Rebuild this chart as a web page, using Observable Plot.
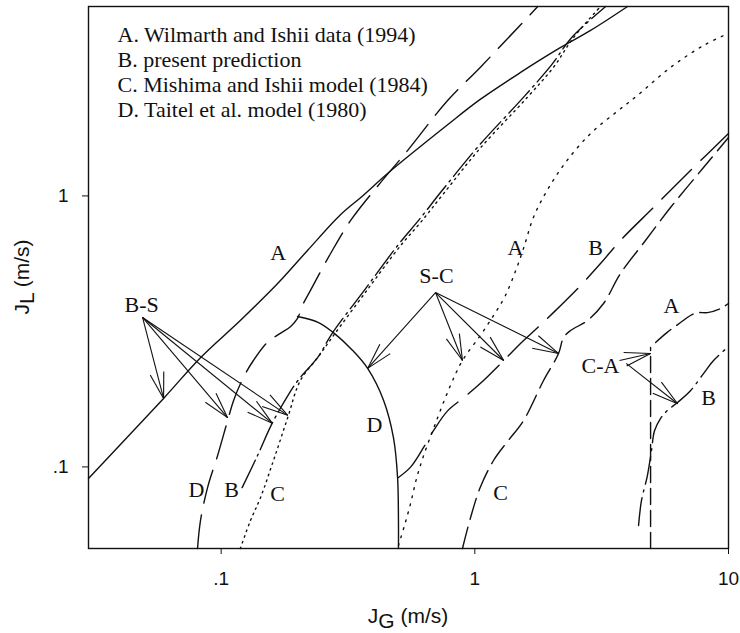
<!DOCTYPE html>
<html>
<head>
<meta charset="utf-8">
<script src="https://cdn.jsdelivr.net/npm/d3@7"></script>
<script src="https://cdn.jsdelivr.net/npm/@observablehq/plot@0.6"></script>
<style>
  html, body { margin: 0; padding: 0; background: #fff; }
  #chart svg { display: block; }
</style>
</head>
<body>
<div id="chart"></div>
<script>
// Flow-regime transition boundaries, superficial gas velocity jG vs liquid velocity jL (m/s)

// Bubbly–slug (B-S) transition
const bsDataG = [0.030, 0.0593, 0.0829, 0.119, 0.167, 0.219, 0.296, 0.361, 0.453, 0.781, 1.05, 1.51, 2.18, 2.86, 4.0];
const bsDataL = [0.0906, 0.179, 0.253, 0.347, 0.475, 0.629, 0.854, 1.00, 1.21, 1.83, 2.27, 2.85, 3.53, 4.08, 5.0];
const bsTaitelG = [0.0807, 0.0829, 0.0884, 0.0968, 0.106, 0.112, 0.1225, 0.134, 0.152, 0.171, 0.188, 0.200, 0.209, 0.225, 0.270, 0.324, 0.425, 0.543, 0.781, 1.05, 1.77];
const bsTaitelL = [0.050, 0.0634, 0.0839, 0.110, 0.148, 0.176, 0.214, 0.247, 0.288, 0.311, 0.330, 0.353, 0.394, 0.448, 0.613, 0.812, 1.12, 1.47, 2.25, 2.98, 5.0];
const bsPresentG = [0.121, 0.139, 0.159, 0.183, 0.202, 0.242, 0.272, 0.371, 0.500, 0.600, 0.739, 1.03, 1.58, 2.01, 2.41, 3.28];
const bsPresentL = [0.0839, 0.110, 0.145, 0.183, 0.210, 0.256, 0.308, 0.455, 0.662, 0.812, 1.04, 1.52, 2.35, 3.05, 3.84, 5.0];
const bsMishimaG = [0.119, 0.1305, 0.143, 0.161, 0.183, 0.205, 0.240, 0.277, 0.378, 0.510, 0.611, 0.753, 1.05, 1.61, 2.04, 2.45, 3.13];
const bsMishimaL = [0.050, 0.0634, 0.0771, 0.106, 0.152, 0.208, 0.253, 0.305, 0.452, 0.656, 0.798, 1.02, 1.50, 2.31, 2.98, 3.84, 5.0];

// Slug–churn (S-C) transition
const scTaitelG = [0.200, 0.242, 0.277, 0.330, 0.378, 0.437, 0.478, 0.496, 0.500, 0.500];
const scTaitelL = [0.359, 0.341, 0.313, 0.269, 0.231, 0.176, 0.128, 0.0914, 0.0634, 0.050];
const scPresentG = [0.500, 0.558, 0.628, 0.687, 0.781, 0.903, 1.05, 1.30, 1.51, 1.77, 2.04, 2.61, 3.13, 3.75, 5.06, 6.89, 10.0];
const scPresentL = [0.0914, 0.0998, 0.118, 0.136, 0.161, 0.180, 0.203, 0.247, 0.285, 0.327, 0.371, 0.467, 0.563, 0.685, 0.906, 1.21, 1.70];
const scMishimaG = [0.894, 0.962, 1.05, 1.185, 1.355, 1.556, 1.866, 2.138, 2.237, 2.384, 2.781, 3.216, 3.752, 4.707, 5.907, 7.971, 10.0];
const scMishimaL = [0.050, 0.065, 0.0839, 0.1056, 0.1252, 0.1483, 0.2084, 0.2621, 0.3003, 0.3186, 0.3469, 0.4009, 0.5172, 0.6846, 0.9061, 1.273, 1.642];
const scDataG = [0.500, 0.528, 0.558, 0.589, 0.628, 0.700, 0.802, 0.894, 1.05, 1.185, 1.32, 1.45, 1.56, 1.70, 1.93, 2.28, 2.86, 3.59, 4.38, 5.91, 7.97, 10.0];
const scDataL = [0.0513, 0.0608, 0.0732, 0.0906, 0.110, 0.145, 0.200, 0.247, 0.305, 0.362, 0.429, 0.531, 0.645, 0.831, 1.05, 1.33, 1.70, 2.03, 2.35, 2.98, 3.59, 3.98];

// Churn–annular (C-A) transition
const caMishimaG = [4.93, 4.93];
const caMishimaL = [0.050, 0.276];
const caDataG = [5.16, 5.72, 6.47, 7.08, 7.55, 8.26, 9.30, 10.0];
const caDataL = [0.288, 0.313, 0.341, 0.362, 0.371, 0.371, 0.384, 0.401];
const caPresentG = [4.42, 4.54, 4.79, 4.97, 5.11, 5.40, 5.72, 6.30, 7.08, 7.97, 8.73, 10.0];
const caPresentL = [0.0608, 0.0752, 0.0929, 0.115, 0.136, 0.151, 0.161, 0.173, 0.191, 0.221, 0.247, 0.278];

// Curve labels
const labelText = ["A", "D", "B", "C", "D", "B-S", "S-C", "A", "B", "C", "A", "B", "C-A"];
const labelG = [0.168, 0.080, 0.110, 0.167, 0.402, 0.0486, 0.706, 1.447, 2.99, 1.263, 5.96, 8.34, 3.13];
const labelL = [0.618, 0.0825, 0.0825, 0.0797, 0.143, 0.3975, 0.508, 0.645, 0.640, 0.0804, 0.391, 0.180, 0.235];

// Leader arrows from the transition labels to their curves
const arrowFromG = [0.049, 0.049, 0.049, 0.049, 0.700, 0.700, 0.700, 0.700, 3.72, 3.95];
const arrowFromL = [0.356, 0.356, 0.356, 0.356, 0.440, 0.440, 0.440, 0.440, 0.247, 0.241];
const arrowToG = [0.0593, 0.106, 0.159, 0.183, 0.378, 0.894, 1.30, 2.14, 4.93, 6.30];
const arrowToL = [0.179, 0.152, 0.145, 0.155, 0.231, 0.247, 0.247, 0.262, 0.262, 0.171];

// Key
const keyLines = [
  "A. Wilmarth and Ishii data (1994)",
  "B. present prediction",
  "C. Mishima and Ishii model (1984)",
  "D. Taitel et al. model (1980)"
];

const xTicks = [0.1, 1, 10];
const yTicks = [0.1, 1];

// ---- layout ----
const W = 740, H = 633;
const M = {left: 88, right: 12, top: 6, bottom: 85};
const xDomain = [0.03, 10], yDomain = [0.05, 5];
const serif = "'Liberation Serif', 'Times New Roman', Times, serif";
const sans = "'Liberation Sans', Arial, Helvetica, sans-serif";

const rows = (g, l) => g.map((x, i) => ({x, y: l[i]}));
const fmt = d => String(d).replace(/^0\./, ".");

// pixel scales matching the plot, used to shape the open arrowheads
const sx = d3.scaleLog(xDomain, [M.left, W - M.right]);
const sy = d3.scaleLog(yDomain, [H - M.bottom, M.top]);
const HEAD_ANGLE = 15 * Math.PI / 180, HEAD_LEN = 27;

const shafts = arrowToG.map((g, i) => ({x1: arrowFromG[i], y1: arrowFromL[i], x2: g, y2: arrowToL[i]}));
const heads = shafts.flatMap(a => {
  const px = sx(a.x2), py = sy(a.y2);
  const ang = Math.atan2(sy(a.y1) - py, sx(a.x1) - px);
  return [-1, 1].map(s => {
    const t = ang + s * HEAD_ANGLE;
    return {x1: a.x2, y1: a.y2, x2: sx.invert(px + HEAD_LEN * Math.cos(t)), y2: sy.invert(py + HEAD_LEN * Math.sin(t))};
  });
});

const lineStyle = (dash, sw = 1.4) => ({x: "x", y: "y", stroke: "#111", strokeWidth: sw, strokeDasharray: dash, curve: "catmull-rom"});
const LONG = "34,12", LONGER = "42,13", MED = "22,8", DOT = "1.6,4.4", DOTW = "1.8,6.5", DASHDOT = "30,5,2,5";

const plot = Plot.plot({
  width: W,
  height: H,
  marginLeft: M.left,
  marginRight: M.right,
  marginTop: M.top,
  marginBottom: M.bottom,
  style: {fontFamily: sans, fontSize: "19px", background: "#fff", color: "#111"},
  x: {type: "log", domain: xDomain, ticks: xTicks, tickFormat: fmt, tickSize: 6, tickPadding: 17, label: null},
  y: {type: "log", domain: yDomain, ticks: yTicks, tickFormat: fmt, tickSize: 6, tickPadding: 14, label: null},
  marks: [
    // B-S
    Plot.line(rows(bsDataG, bsDataL), lineStyle(null)),
    Plot.line(rows(bsTaitelG, bsTaitelL), lineStyle(LONG)),
    Plot.line(rows(bsPresentG, bsPresentL), lineStyle(DASHDOT)),
    Plot.line(rows(bsMishimaG, bsMishimaL), lineStyle(DOT)),
    // S-C
    Plot.line(rows(scTaitelG, scTaitelL), lineStyle(null)),
    Plot.line(rows(scPresentG, scPresentL), lineStyle(LONGER)),
    Plot.line(rows(scMishimaG, scMishimaL), lineStyle(MED)),
    Plot.line(rows(scDataG, scDataL), lineStyle(DOTW)),
    // C-A
    Plot.line(rows(caMishimaG, caMishimaL), {...lineStyle("16,6"), curve: "linear"}),
    Plot.line(rows(caDataG, caDataL), lineStyle("20,7")),
    Plot.line(rows(caPresentG, caPresentL), lineStyle("28,6,2,6")),
    // arrows
    Plot.link(shafts, {x1: "x1", y1: "y1", x2: "x2", y2: "y2", stroke: "#111", strokeWidth: 1.1}),
    Plot.link(heads, {x1: "x1", y1: "y1", x2: "x2", y2: "y2", stroke: "#111", strokeWidth: 1.1}),
    // curve labels
    Plot.text(labelText.map((t, i) => ({t, x: labelG[i], y: labelL[i]})), {
      x: "x", y: "y", text: "t", fontFamily: serif, fontSize: 22, fill: "#111"
    }),
    // key
    Plot.text([keyLines.join("\n")], {
      frameAnchor: "top-left", text: d => d, textAnchor: "start", lineAnchor: "top",
      dx: 29, dy: 18, lineHeight: 25 / 22, fontFamily: serif, fontSize: 22, fill: "#111"
    }),
    Plot.frame({stroke: "#111", strokeWidth: 1.4})
  ]
});

document.getElementById("chart").appendChild(plot);

// Axis titles with subscripts
const svg = d3.select(plot);
const cx = M.left + (W - M.left - M.right) / 2;
const cy = M.top + (H - M.top - M.bottom) / 2;

const xt = svg.append("text")
  .attr("x", cx).attr("y", H - 10)
  .attr("text-anchor", "middle")
  .attr("font-family", sans).attr("font-size", 21).attr("fill", "#111");
xt.append("tspan").text("J");
xt.append("tspan").attr("dy", 5).text("G");
xt.append("tspan").attr("dy", -5).text(" (m/s)");

const yt = svg.append("text")
  .attr("transform", `translate(29,${cy}) rotate(-90)`)
  .attr("text-anchor", "middle")
  .attr("font-family", sans).attr("font-size", 21).attr("fill", "#111");
yt.append("tspan").text("J");
yt.append("tspan").attr("dy", 5).text("L");
yt.append("tspan").attr("dy", -5).text(" (m/s)");
</script>
</body>
</html>
